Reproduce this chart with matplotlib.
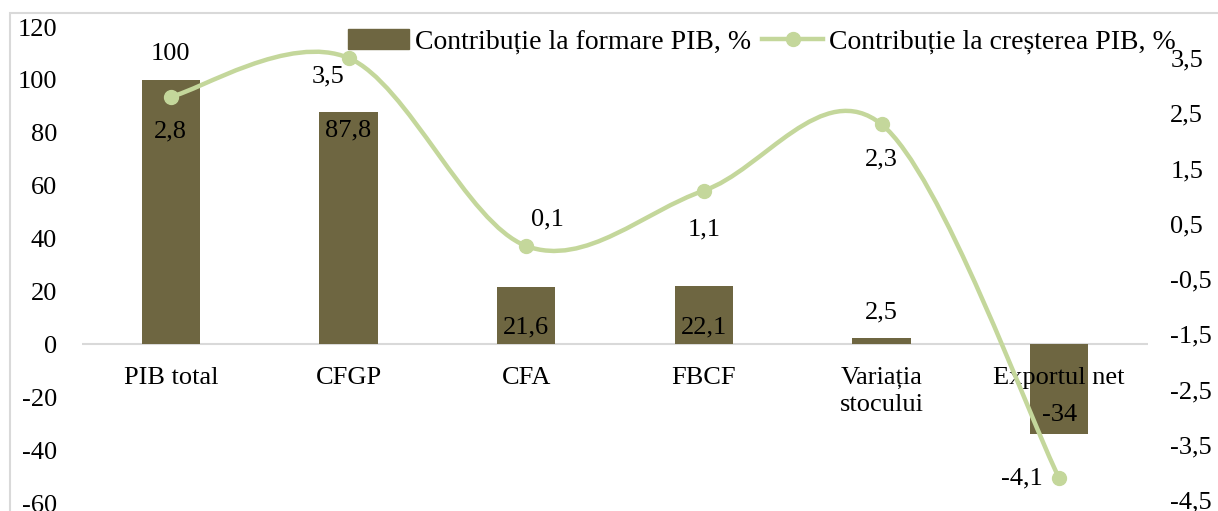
import numpy as np
import matplotlib.pyplot as plt
from matplotlib.path import Path
from matplotlib.patches import PathPatch, Rectangle
from matplotlib.lines import Line2D

plt.rcParams['font.family'] = ['Liberation Serif', 'DejaVu Serif']
plt.rcParams['axes.unicode_minus'] = False

categories = ['PIB total', 'CFGP', 'CFA', 'FBCF', 'Variația\nstocului', 'Exportul net']
formare = [100, 87.8, 21.6, 22.1, 2.5, -34]
crestere = [2.8, 3.5, 0.1, 1.1, 2.3, -4.1]

bar_color = '#6e6641'
line_color = '#c4d79b'
fs = 19


def fmt(v):
    s = ('%g' % v).replace('.', ',')
    return s


def smooth_path(xs, ys):
    # Catmull-Rom -> cubic Bezier, like Excel smoothed line
    pts = np.column_stack([xs, ys]).astype(float)
    ext = np.vstack([pts[0], pts, pts[-1]])
    verts = [pts[0]]
    codes = [Path.MOVETO]
    for i in range(len(pts) - 1):
        p0, p1, p2, p3 = ext[i], ext[i + 1], ext[i + 2], ext[i + 3]
        c1 = p1 + (p2 - p0) / 6
        c2 = p2 - (p3 - p1) / 6
        verts += [c1, c2, p2]
        codes += [Path.CURVE4] * 3
    return Path(verts, codes)


fig = plt.figure(figsize=(12.18, 5.11), dpi=100)
fig.patches.append(Rectangle((10 / 1218, -0.01), 1.0, 1 - 13 / 511 + 0.01,
                             transform=fig.transFigure, fill=False,
                             edgecolor='#d9d9d9', linewidth=1.5))
ax1 = fig.add_axes([82 / 1218, 1 - 503 / 511, (1148 - 82) / 1218, (503 - 27) / 511])
ax2 = ax1.twinx()

x = np.arange(len(categories))
bars = ax1.bar(x, formare, width=0.33, color=bar_color, zorder=2)
ax1.axhline(0, color='#d9d9d9', linewidth=1.5, zorder=1)
ax1.set_xlim(-0.5, len(categories) - 0.5)
ax1.set_ylim(-60, 120)
ax1.set_yticks(range(-60, 121, 20))
ax1.set_xticks([])
ax1.tick_params(axis='y', length=0, labelsize=fs, pad=18)

ax2.set_ylim(-4.55, 4.06)
rt = np.arange(-4.5, 3.6, 1.0)
ax2.set_yticks(rt)
ax2.set_yticklabels([fmt(v) for v in rt])
ax2.tick_params(axis='y', length=0, labelsize=fs, pad=16)

for a in (ax1, ax2):
    for s in a.spines.values():
        s.set_visible(False)

# category labels just under zero line
for i, c in enumerate(categories):
    ax1.annotate(c, (i, 0), xytext=(0, -16), textcoords='offset points',
                 ha='center', va='top', fontsize=fs, zorder=3, linespacing=1.3)

# bar value labels (offsets in points)
bar_offsets = [19, -13, -29, -30, 18, 14]
for i, v in enumerate(formare):
    ax1.annotate(fmt(v), (i, v), xytext=(0, bar_offsets[i]), textcoords='offset points',
                 ha='center', va='center', fontsize=fs, zorder=3)

ax2.add_patch(PathPatch(smooth_path(x, crestere), facecolor='none',
                        edgecolor=line_color, linewidth=3.2, capstyle='round', zorder=4))
ax2.plot(x, crestere, 'o', color=line_color, markersize=10, zorder=5)

line_offsets = [(0, -25), (-15, -13), (15, 19), (0, -28), (0, -25), (-27, 0)]
for i, v in enumerate(crestere):
    ax2.annotate(fmt(v), (i, v), xytext=line_offsets[i], textcoords='offset points',
                 ha='center', va='center', fontsize=fs, zorder=6)

handles = [Rectangle((0, 0), 1, 1, color=bar_color),
           Line2D([], [], color=line_color, linewidth=3.2, marker='o', markersize=10)]
fig.legend(handles, ['Contribuție la formare PIB, %', 'Contribuție la creșterea PIB, %'],
           loc='center', bbox_to_anchor=(762 / 1218, 1 - 42 / 511), ncol=2, frameon=False,
           fontsize=20, handlelength=2.2, handletextpad=0.2, columnspacing=0.4,
           borderpad=0, handleheight=0.75)

fig.savefig('out.png', dpi=100)
